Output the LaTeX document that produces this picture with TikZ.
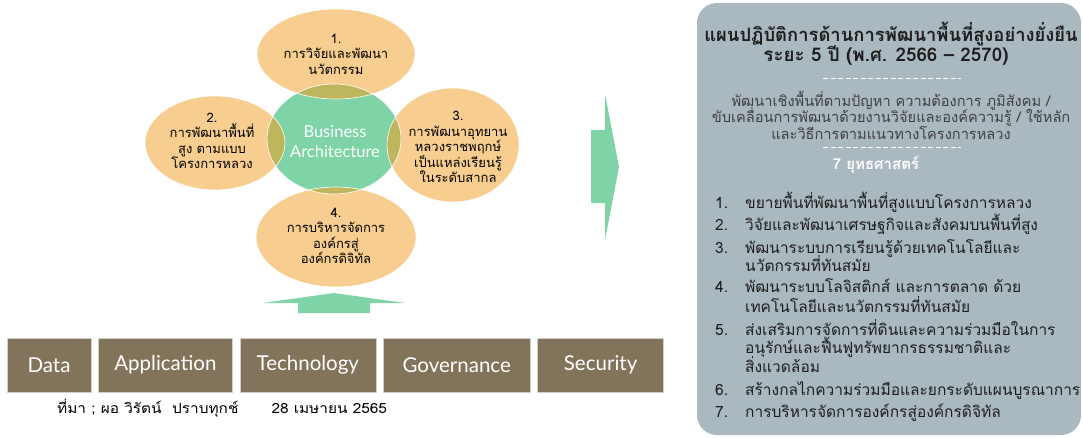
\documentclass[tikz,border=0pt]{standalone}
\usepackage{fontspec}
\newfontfamily\thaifont[Script=Thai]{Loma}
\newfontfamily\thainote[Script=Thai, FakeStretch=1.1]{Loma}
\newfontfamily\latinfont{Lato}
\usetikzlibrary{shapes.geometric,positioning}

\definecolor{goalorange}{HTML}{F7CE8F}
\definecolor{bizgreen}{HTML}{7ED4A6}
\definecolor{lensolive}{HTML}{BDB65C}
\definecolor{layerbrown}{HTML}{82745B}
\definecolor{planblue}{HTML}{AAB9C0}
\definecolor{plantext}{HTML}{1E1E1E}

\begin{document}
\begin{tikzpicture}[x=1pt, y=-1pt,
    goal/.style={ellipse, fill=goalorange, inner sep=0pt},
    goaltext/.style={align=center, inner sep=0pt,
        font=\thaifont\fontsize{13}{15.5}\selectfont},
    layer/.style={fill=layerbrown, draw=layerbrown!35!white, text=white,
        minimum height=54pt, inner sep=0pt,
        font=\latinfont\fontsize{20.5}{24}\selectfont},
    titleline/.style={text=plantext, inner sep=0pt,
        font=\thaifont\bfseries\fontsize{18.4}{22}\selectfont},
    subline/.style={text=plantext!85!white, inner sep=0pt,
        font=\thaifont\fontsize{14.6}{16}\selectfont},
    planline/.style={anchor=west, inner sep=0pt, text=plantext,
        text height=11pt, text depth=1pt,
        font=\thaifont\fontsize{15.5}{18}\selectfont}]

\useasboundingbox (0,0) rectangle (1083,437);

% Business architecture and its four goals
\node[ellipse, fill=bizgreen, inner sep=0pt,
        minimum width=134pt, minimum height=110pt
    ] (biz) at (334,139) {};
\node[goal, minimum width=158pt, minimum height=90pt] (goal1) at (336,54) {};
\node[goal, minimum width=140pt, minimum height=94pt] (goal2) at (215,143) {};
\node[goal, minimum width=132pt, minimum height=114pt] (goal3) at (453,145) {};
\node[goal, minimum width=160pt, minimum height=100pt] (goal4) at (336,237) {};

% Overlaps
\begin{scope}
    \clip (biz.center) ellipse [x radius=67, y radius=55];
    \foreach \g/\rx/\ry in {goal1/79/45, goal2/70/47, goal3/66/57, goal4/80/50}
        \fill[lensolive] (\g.center) ellipse [x radius=\rx, y radius=\ry];
\end{scope}
\draw[white, line width=0.6pt] (biz.center) ellipse [x radius=67, y radius=55];
\foreach \g/\rx/\ry in {goal1/79/45, goal2/70/47, goal3/66/57, goal4/80/50}
    \draw[white, line width=0.6pt] (\g.center) ellipse [x radius=\rx, y radius=\ry];

% Texts
\node[align=center, text=white, inner sep=0pt,
        font=\latinfont\fontsize{16.5}{20}\selectfont
    ] (biztext) at (335,142) {Business\\Architecture};
\node[goaltext] (text1) at (336,54) {1.\\การวิจัยและพัฒนา\\นวัตกรรม};
\node[goaltext] (text2) at (212,141) {2.\\การพัฒนาพื้นที่\\สูง ตามแบบ\\โครงการหลวง};
\node[goaltext] (text3) at (458,147) {3.\\การพัฒนาอุทยาน\\หลวงราชพฤกษ์\\เป็นแหล่งเรียนรู้\\ในระดับสากล};
\node[goaltext] (text4) at (336,236) {4.\\การบริหารจัดการ\\องค์กรสู่\\องค์กรดิจิทัล};

% Arrows
\fill[bizgreen] (298,313) -- (298,303) -- (263,303) -- (334,293)
    -- (405,303) -- (370,303) -- (370,313) -- cycle;
\fill[bizgreen] (591,130) -- (605,130) -- (605,94) -- (619,167)
    -- (605,240) -- (605,203) -- (591,203) -- cycle;

% Layers
\node[layer, minimum width=84pt] (data) at (49,365) {Data};
\node[layer, minimum width=134pt, right=7pt of data] (app) {Application};
\node[layer, minimum width=136pt, right=7pt of app] (tech) {Technology};
\node[layer, minimum width=147pt, right=7pt of tech] (gov) {Governance};
\node[layer, minimum width=126pt, right=7pt of gov] (sec) {Security};

\node[anchor=west, inner sep=0pt,
        font=\thainote\fontsize{14}{16}\selectfont
    ] (source) at (57,408) {ที่มา ; ผอ วิรัตน์~~ปราบทุกช์\hspace{33pt}28 เมษายน 2565};

% Plan panel
\fill[planblue, rounded corners=20pt] (697,3) rectangle (1081,435);
\node[titleline] (title1) at (891,34) {แผนปฏิบัติการด้านการพัฒนาพื้นที่สูงอย่างยั่งยืน};
\node[titleline, font=\thaifont\bfseries\fontsize{18.8}{22}\selectfont
    ] (title2) at (886,56) {ระยะ 5 ปี (พ.ศ. 2566 – 2570)};
\draw[white, line width=1pt, dash pattern=on 5pt off 2.5pt] (823,78) -- (961,78);
\node[subline] (sub1) at (891,101) {พัฒนาเชิงพื้นที่ตามปัญหา ความต้องการ ภูมิสังคม /};
\node[subline] (sub2) at (891,117) {ขับเคลื่อนการพัฒนาด้วยงานวิจัยและองค์ความรู้ / ใช้หลัก};
\node[subline] (sub3) at (891,133) {และวิธีการตามแนวทางโครงการหลวง};
\draw[white, line width=1pt, dash pattern=on 5pt off 2.5pt] (823,147) -- (961,147);
\node[text=white, inner sep=0pt,
        font=\thaifont\bfseries\fontsize{15}{18}\selectfont
    ] (strat) at (876,165) {7 ยุทธศาสตร์};

% Seven strategies
\foreach \n/\y in {1/203, 2/225, 3/248, 4/287, 5/330, 6/390, 7/412}
    \node[planline] (num\n) at (715,\y) {\n.};
\foreach \y/\t [count=\i] in {
        203/ขยายพื้นที่พัฒนาพื้นที่สูงแบบโครงการหลวง,
        225/วิจัยและพัฒนาเศรษฐกิจและสังคมบนพื้นที่สูง,
        248/พัฒนาระบบการเรียนรู้ด้วยเทคโนโลยีและ,
        266/นวัตกรรมที่ทันสมัย,
        287/พัฒนาระบบโลจิสติกส์ และการตลาด ด้วย,
        307/เทคโนโลยีและนวัตกรรมที่ทันสมัย,
        330/ส่งเสริมการจัดการที่ดินและความร่วมมือในการ,
        348/อนุรักษ์และฟื้นฟูทรัพยากรธรรมชาติและ,
        367/สิ่งแวดล้อม,
        390/สร้างกลไกความร่วมมือและยกระดับแผนบูรณาการ,
        412/การบริหารจัดการองค์กรสู่องค์กรดิจิทัล}
    \node[planline] (line\i) at (745,\y) {\t};
\end{tikzpicture}
\end{document}
